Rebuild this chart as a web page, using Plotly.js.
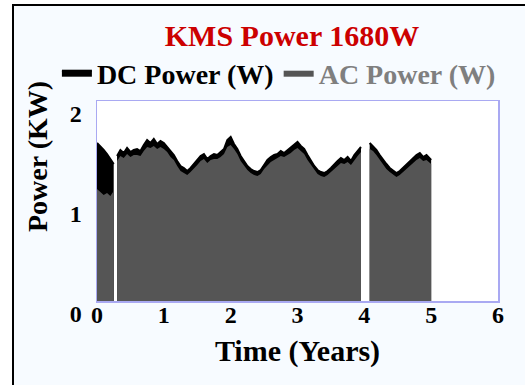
<!DOCTYPE html>
<html>
<head>
<meta charset="utf-8">
<script src="https://cdn.plot.ly/plotly-3.0.1.min.js"></script>
<style>
  html, body { margin: 0; padding: 0; background: #ffffff; width: 525px; height: 385px; overflow: hidden; }
  #frame { position: absolute; left: 12px; top: 4px; width: 513px; height: 381px;
           background: #f7fbff; border-left: 2px solid #000; border-top: 2px solid #000; }
  #chart { position: absolute; left: 0; top: 0; width: 525px; height: 385px; }
</style>
</head>
<body>
<div id="frame"></div>
<div id="chart"></div>
<script>
// Time in years (null entries mark data gaps)
const timeYears = [
  0.00, 0.05, 0.10, 0.15, 0.20, 0.25, 0.27,
  0.30, 0.35, 0.40, 0.45, 0.50, 0.55, 0.60, 0.65, 0.70, 0.75, 0.80, 0.85, 0.90, 0.95,
  1.00, 1.05, 1.10, 1.15, 1.20, 1.25, 1.30, 1.35, 1.40, 1.45, 1.50, 1.55, 1.60, 1.65,
  1.70, 1.75, 1.80, 1.85, 1.90, 1.95, 2.00, 2.05, 2.10, 2.15, 2.20, 2.25, 2.30, 2.35,
  2.40, 2.45, 2.50, 2.55, 2.60, 2.65, 2.70, 2.75, 2.80, 2.85, 2.90, 2.95, 3.00, 3.05,
  3.10, 3.15, 3.20, 3.25, 3.30, 3.35, 3.40, 3.45, 3.50, 3.55, 3.60, 3.65, 3.70, 3.75,
  3.80, 3.85, 3.90, 3.95, 4.00,
  4.08, 4.13, 4.18, 4.23, 4.28, 4.33, 4.38, 4.43, 4.48, 4.53, 4.58, 4.63, 4.68, 4.73,
  4.78, 4.83, 4.88, 4.93, 4.97, 5.00
];
// DC power, upper envelope (KW)
const dcPower = [
  1.58, 1.55, 1.51, 1.47, 1.42, 1.37, null,
  1.45, 1.51, 1.48, 1.53, 1.49, 1.51, 1.52, 1.50, 1.56, 1.61, 1.58, 1.62, 1.57, 1.60,
  1.58, 1.54, 1.49, 1.46, 1.40, 1.35, 1.33, 1.30, 1.33, 1.37, 1.41, 1.45, 1.47, 1.42,
  1.45, 1.47, 1.46, 1.49, 1.52, 1.61, 1.64, 1.57, 1.52, 1.45, 1.40, 1.35, 1.32, 1.30,
  1.29, 1.31, 1.36, 1.41, 1.44, 1.46, 1.47, 1.50, 1.48, 1.51, 1.53, 1.56, 1.59, 1.55,
  1.52, 1.46, 1.40, 1.35, 1.31, 1.29, 1.28, 1.30, 1.33, 1.37, 1.40, 1.43, 1.41, 1.44,
  1.40, 1.46, 1.50, 1.54, null,
  1.58, 1.55, 1.51, 1.46, 1.41, 1.37, 1.33, 1.30, 1.28, 1.30, 1.33, 1.36, 1.39, 1.42,
  1.46, 1.48, 1.44, 1.46, 1.43, 1.41
];
// AC power, upper envelope (KW)
const acPower = [
  1.12, 1.09, 1.06, 1.08, 1.05, 1.10, null,
  1.40, 1.45, 1.43, 1.47, 1.44, 1.46, 1.46, 1.45, 1.50, 1.54, 1.53, 1.55, 1.52, 1.54,
  1.52, 1.49, 1.44, 1.41, 1.35, 1.30, 1.28, 1.26, 1.29, 1.32, 1.36, 1.40, 1.42, 1.38,
  1.41, 1.42, 1.42, 1.44, 1.47, 1.54, 1.56, 1.52, 1.47, 1.40, 1.35, 1.31, 1.28, 1.26,
  1.25, 1.27, 1.32, 1.36, 1.39, 1.41, 1.43, 1.45, 1.44, 1.46, 1.48, 1.51, 1.53, 1.50,
  1.47, 1.41, 1.36, 1.31, 1.27, 1.25, 1.24, 1.26, 1.29, 1.32, 1.35, 1.38, 1.37, 1.39,
  1.36, 1.41, 1.45, 1.49, null,
  1.52, 1.50, 1.46, 1.41, 1.36, 1.32, 1.29, 1.26, 1.24, 1.26, 1.29, 1.32, 1.35, 1.38,
  1.41, 1.43, 1.40, 1.41, 1.39, 1.37
];
const xTicks = [0, 1, 2, 3, 4, 5, 6];
const yTicks = [0, 1, 2];

const serif = 'Liberation Serif, Times New Roman, serif';

// split a series into continuous segments at null gaps
function segments(xs, ys) {
  const out = [];
  let cur = { x: [], y: [] };
  for (let i = 0; i < xs.length; i++) {
    if (ys[i] === null) {
      if (cur.x.length) out.push(cur);
      cur = { x: [], y: [] };
    } else {
      cur.x.push(xs[i]); cur.y.push(ys[i]);
    }
  }
  if (cur.x.length) out.push(cur);
  return out;
}

const traces = [];
segments(timeYears, dcPower).forEach((s, i) => {
  traces.push({
    x: s.x, y: s.y, name: 'DC Power (W)', legendgroup: 'dc', showlegend: i === 0,
    type: 'scatter', mode: 'lines', fill: 'tozeroy',
    fillcolor: '#000000', line: { color: '#000000', width: 2 },
    hoverinfo: 'skip'
  });
});
segments(timeYears, acPower).forEach((s, i) => {
  traces.push({
    x: s.x, y: s.y, name: '<span style="color:#7f7f7f">AC Power (W)</span>',
    legendgroup: 'ac', showlegend: i === 0,
    type: 'scatter', mode: 'lines', fill: 'tozeroy',
    fillcolor: '#555555', line: { color: '#555555', width: 0 },
    hoverinfo: 'skip'
  });
});

const layout = {
  width: 525, height: 385,
  margin: { l: 97, r: 27, t: 101, b: 84, pad: 0 },
  paper_bgcolor: 'rgba(0,0,0,0)',
  plot_bgcolor: '#ffffff',
  showlegend: true,
  title: {
    text: 'KMS Power 1680W',
    font: { family: serif, size: 30, color: '#cc0000', weight: 'bold' },
    x: 292 / 525, xanchor: 'center', xref: 'container',
    y: 1 - 35 / 385, yanchor: 'middle', yref: 'container'
  },
  legend: {
    orientation: 'h',
    x: -0.1, xanchor: 'left',
    y: 1.14, yanchor: 'middle',
    font: { family: serif, size: 28, color: '#000000', weight: 'bold' },
    bgcolor: 'rgba(0,0,0,0)',
    itemwidth: 30,
    traceorder: 'normal'
  },
  xaxis: {
    range: [0, 6], tickvals: xTicks, ticktext: xTicks.map(String),
    showgrid: false, zeroline: false, ticks: '',
    showline: true, mirror: true, linecolor: '#a9a9f2', linewidth: 1.5,
    tickfont: { family: serif, size: 24, color: '#000000', weight: 'bold' },
    ticklabelstandoff: -8,
    title: { text: 'Time (Years)', font: { family: serif, size: 30, color: '#000000', weight: 'bold' }, standoff: 12 },
    fixedrange: true
  },
  yaxis: {
    range: [0, 2], tickvals: yTicks, ticktext: yTicks.map(String),
    showgrid: false, zeroline: false, ticks: '',
    showline: true, mirror: true, linecolor: '#a9a9f2', linewidth: 1.5,
    tickfont: { family: serif, size: 24, color: '#000000', weight: 'bold' },
    ticklabelshift: 13, ticklabelstandoff: 9,
    fixedrange: true
  },
  annotations: [
    {
      text: 'Power (KW)', textangle: -90,
      xref: 'paper', yref: 'paper',
      x: (37 - 97) / 401, y: (301 - 157) / 200,
      xanchor: 'center', yanchor: 'middle', showarrow: false,
      font: { family: serif, size: 28, color: '#000000', weight: 'bold' }
    }
  ]
};

Plotly.newPlot('chart', traces, layout, { staticPlot: true, displayModeBar: false });
</script>
</body>
</html>
